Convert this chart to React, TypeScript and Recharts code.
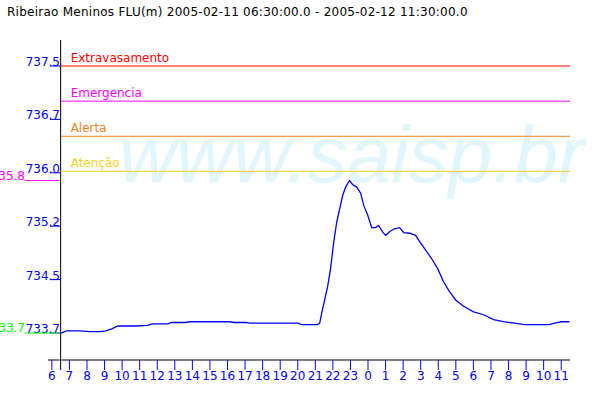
import { LineChart, Line, XAxis, YAxis, ReferenceLine } from "recharts";

// hours since 2005-02-11 00:00 (24 = midnight of the 12th)
const hours = [
  6.5, 6.85, 7.59, 8.16, 8.73, 9.07, 9.41, 9.76, 10.72, 11.46, 11.69, 12.6, 12.83, 13.62, 13.85,
  16.13, 16.36, 17.04, 17.27, 20.0, 20.22, 21.13, 21.25, 21.36, 21.53, 21.7, 21.87, 22.04, 22.22,
  22.39, 22.56, 22.73, 22.95, 23.13, 23.35, 23.58, 23.75, 23.98, 24.21, 24.43, 24.6, 24.83, 25.0,
  25.23, 25.46, 25.8, 26.03, 26.37, 26.71, 26.94, 27.28, 27.62, 27.96, 28.3, 28.64, 28.99, 29.44,
  30.01, 30.58, 31.15, 31.77, 32.34, 32.91, 34.33, 34.62, 35.02, 35.47,
];

const levels = [
  733.7, 733.73, 733.73, 733.72, 733.72, 733.73, 733.76, 733.8, 733.8, 733.81, 733.83, 733.83,
  733.85, 733.85, 733.86, 733.86, 733.85, 733.85, 733.84, 733.84, 733.82, 733.82, 733.84, 733.98,
  734.17, 734.36, 734.62, 734.98, 735.28, 735.47, 735.66, 735.78, 735.87, 735.81, 735.78, 735.69,
  735.52, 735.38, 735.2, 735.2, 735.23, 735.14, 735.09, 735.14, 735.18, 735.2, 735.13, 735.12,
  735.09, 735.0, 734.88, 734.76, 734.62, 734.43, 734.29, 734.17, 734.08, 734.0, 733.96, 733.89,
  733.86, 733.84, 733.82, 733.82, 733.84, 733.86, 733.86,
];

const hourTicks = [
  6, 7, 8, 9, 10, 11, 12, 13, 14, 15, 16, 17, 18, 19, 20, 21, 22, 23, 24, 25, 26, 27, 28, 29, 30,
  31, 32, 33, 34, 35,
];
const levelTicks = [733.7, 734.46, 735.22, 735.98, 736.74, 737.5];

const thresholdNames = ["Extravasamento", "Emergencia", "Alerta", "Atenção"];
const thresholdLevels = [737.5, 737.0, 736.5, 736.0];
const thresholdColors = ["#ff0000", "#ff00ff", "#f5801f", "#f8d020"];

const title = "Ribeirao Meninos FLU(m) 2005-02-11 06:30:00.0 - 2005-02-12 11:30:00.0";
const watermark = "www.saisp.br";

const data = hours.map((h, i) => ({ h, v: levels[i] }));
const minLevel = Math.min(...levels);
const maxLevel = Math.max(...levels);
const yDomain = [733.316, 737.87];
const xDomain = [5.78, 35.5];
const FONT = "DejaVu Sans";

const BLUE = "#0000ff";

function YTick(props: any) {
  const { y, payload } = props;
  return (
    <g>
      <line x1={50} x2={60} y1={y} y2={y} stroke={BLUE} />
      <text x={60} y={y} textAnchor="end" fill={BLUE} fontSize={12} fontFamily={FONT}>
        {payload.value.toFixed(1)}
      </text>
    </g>
  );
}

function ExtremeTick(props: any) {
  const { y, payload } = props;
  const isMax = payload.value === maxLevel;
  const color = isMax ? "#ff00ff" : "#00ff00";
  return (
    <g>
      <line x1={25} x2={60} y1={y} y2={y} stroke={color} />
      <text x={25} y={y - 1} textAnchor="end" fill={color} fontSize={12} fontFamily={FONT}>
        {(Math.floor(payload.value * 10 + 1e-6) / 10).toFixed(1)}
      </text>
    </g>
  );
}

function XTick(props: any) {
  const { x, y, payload } = props;
  return (
    <text x={x} y={y + 10} textAnchor="middle" fill={BLUE} fontSize={12} fontFamily={FONT}>
      {payload.value % 24}
    </text>
  );
}

function ThresholdLabel(props: any) {
  const { viewBox, name, color } = props;
  return (
    <text x={viewBox.x + 10} y={viewBox.y - 4} fill={color} fontSize={12} fontFamily={FONT}>
      {name}
    </text>
  );
}

export default function App() {
  return (
    <div style={{ position: "absolute", left: 0, top: 0, width: 600, height: 400, background: "#fff" }}>
      <svg width={600} height={400} style={{ position: "absolute", left: 0, top: 0 }}>
        <text x={7} y={16} fontSize={12} fontFamily={FONT} fill="#000" letterSpacing={0.25}>
          {title}
        </text>
        <text
          x={119}
          y={182}
          fontSize={79}
          fontStyle="italic"
          fontFamily="Liberation Sans"
          fill="#e1f5fd"
        >
          {watermark}
        </text>
      </svg>
      <div style={{ position: "absolute", left: 0, top: 0 }}>
        <LineChart width={600} height={400} data={data} margin={{ top: 40, right: 30, left: 0, bottom: 0 }}>
          <XAxis
            dataKey="h"
            type="number"
            domain={xDomain}
            ticks={hourTicks}
            interval={0}
            allowDataOverflow
            height={40}
            tickSize={10}
            tickMargin={0}
            axisLine={{ stroke: "#000" }}
            tickLine={{ stroke: BLUE }}
            tick={<XTick />}
          />
          <YAxis
            yAxisId="main"
            type="number"
            domain={yDomain}
            ticks={levelTicks}
            interval={0}
            allowDataOverflow
            width={24}
            axisLine={false}
            tickLine={false}
            tick={<YTick />}
          />
          <YAxis
            yAxisId="extremes"
            type="number"
            domain={yDomain}
            ticks={[minLevel, maxLevel]}
            interval={0}
            allowDataOverflow
            width={24}
            axisLine={false}
            tickLine={false}
            tick={<ExtremeTick />}
          />
          <ReferenceLine
            yAxisId="main"
            segment={[
              { x: 6.5, y: yDomain[1] },
              { x: 6.5, y: 733.174 },
            ]}
            stroke="#000"
            ifOverflow="visible"
          />
          {thresholdLevels.map((lv, i) => (
            <ReferenceLine
              key={thresholdNames[i]}
              yAxisId="main"
              segment={[
                { x: 6.5, y: lv },
                { x: 35.5, y: lv },
              ]}
              stroke={thresholdColors[i]}
              ifOverflow="visible"
              label={<ThresholdLabel name={thresholdNames[i]} color={thresholdColors[i]} />}
            />
          ))}
          <Line
            yAxisId="main"
            dataKey="v"
            type="linear"
            stroke={BLUE}
            strokeWidth={1.3}
            dot={false}
            isAnimationActive={false}
          />
        </LineChart>
      </div>
    </div>
  );
}
